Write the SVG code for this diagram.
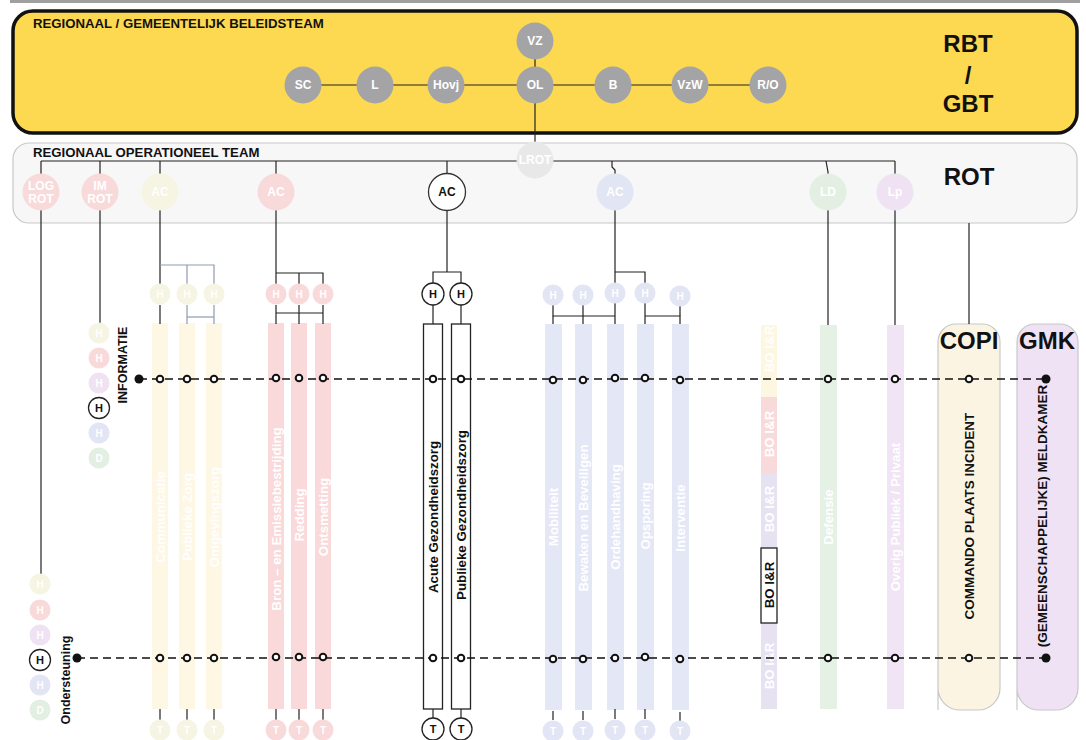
<svg xmlns="http://www.w3.org/2000/svg" width="1086" height="740" viewBox="0 0 1086 740">
<style>
text{font-family:"Liberation Sans",Arial,sans-serif;font-weight:bold}
.ln{stroke:#222;stroke-width:1.2;fill:none}
.lb{stroke:#8C9CB0;stroke-width:1.2;fill:none}
.dash{stroke:#111;stroke-width:1.4;stroke-dasharray:8 5;fill:none}
.gc{fill:#A4A4A6}
.gt{fill:#fff;font-size:12px;text-anchor:middle;dominant-baseline:central}
.ct{fill:#fff;font-size:13.3px;text-anchor:middle;dominant-baseline:central}
.bt{fill:#111;font-size:13.3px;text-anchor:middle;dominant-baseline:central}
.ft{fill:#fff;font-size:10px;text-anchor:middle;dominant-baseline:central}
.hk{fill:#fff;stroke:#222;stroke-width:1.3}
.hkt{fill:#111;font-size:11px;text-anchor:middle;dominant-baseline:central}
.od{fill:#fff;stroke:#111;stroke-width:2}
.fd{fill:#111}
.cy{fill:#FDF7E4}.cr{fill:#F9D9D9}.cb{fill:#E4E7F6}.cg{fill:#E4F1E4}.cp{fill:#F0E4F5}
.ky{fill:#F6F4E2}.kr{fill:#F9DADA}.kb{fill:#E2E5F4}.kg{fill:#E2EFE2}.kp{fill:#EFE2F3}
.big{fill:#111;font-size:24px;text-anchor:middle}
.ttl{fill:#111;font-size:13.2px}
</style>
<rect x="10" y="0" width="1070" height="3" fill="#A0A0A0"/>

<g id="rbt">
<rect x="13" y="11" width="1064" height="122" rx="20" fill="#FCD950" stroke="#111" stroke-width="3.5"/>
<text class="ttl" x="33" y="28">REGIONAAL / GEMEENTELIJK BELEIDSTEAM</text>
<text class="big" x="968" y="52">RBT</text>
<text class="big" x="968" y="84">/</text>
<text class="big" x="968" y="112">GBT</text>
</g>

<g id="rot">
<rect x="13" y="143" width="1064" height="80" rx="16" fill="#F7F7F7" stroke="#C8C8C8" stroke-width="1.2"/>
<text class="ttl" x="33" y="157">REGIONAAL OPERATIONEEL TEAM</text>
<text class="big" x="969" y="185">ROT</text>
</g>

<g id="columns">
<g id="col-communicatie"><rect class="cy" x="152" y="323" width="16" height="386"/><text class="ct" transform="translate(160,517) rotate(-90)">Communicatie</text></g>
<g id="col-publieke-zorg"><rect class="cy" x="179" y="323" width="16" height="386"/><text class="ct" transform="translate(187,517) rotate(-90)">Publieke Zorg</text></g>
<g id="col-omgevingszorg"><rect class="cy" x="206" y="323" width="16" height="386"/><text class="ct" transform="translate(214,517) rotate(-90)">Omgevingszorg</text></g>
<g id="col-bron"><rect class="cr" x="268" y="323" width="16" height="386"/><text class="ct" transform="translate(276,519) rotate(-90)">Bron – en Emissiebestrijding</text></g>
<g id="col-redding"><rect class="cr" x="291" y="323" width="16" height="386"/><text class="ct" transform="translate(299,515) rotate(-90)">Redding</text></g>
<g id="col-ontsmetting"><rect class="cr" x="315" y="323" width="16" height="386"/><text class="ct" transform="translate(323,517) rotate(-90)">Ontsmetting</text></g>
<g id="col-acute"><rect x="423.5" y="324" width="19" height="385" fill="#fff" stroke="#222" stroke-width="1.3"/><text class="bt" transform="translate(433,517) rotate(-90)">Acute Gezondheidszorg</text></g>
<g id="col-publieke-gz"><rect x="451.5" y="324" width="19" height="385" fill="#fff" stroke="#222" stroke-width="1.3"/><text class="bt" transform="translate(461,515) rotate(-90)">Publieke Gezondheidszorg</text></g>
<g id="col-mobiliteit"><rect class="cb" x="545" y="324" width="17" height="386"/><text class="ct" transform="translate(553,517) rotate(-90)">Mobiliteit</text></g>
<g id="col-bewaken"><rect class="cb" x="575" y="324" width="17" height="386"/><text class="ct" transform="translate(583,518) rotate(-90)">Bewaken en Beveiligen</text></g>
<g id="col-ordehandhaving"><rect class="cb" x="607" y="324" width="17" height="386"/><text class="ct" transform="translate(615,517) rotate(-90)">Ordehandhaving</text></g>
<g id="col-opsporing"><rect class="cb" x="637" y="324" width="17" height="386"/><text class="ct" transform="translate(645,516) rotate(-90)">Opsporing</text></g>
<g id="col-interventie"><rect class="cb" x="672" y="324" width="17" height="386"/><text class="ct" transform="translate(680,518) rotate(-90)">Interventie</text></g>
<g id="col-bo">
<rect x="761" y="325" width="16" height="72" fill="#FDF6E0"/>
<rect x="761" y="397" width="16" height="76" fill="#F9DADA"/>
<rect x="761" y="473" width="16" height="236" fill="#E6E2F2"/>
<text class="ct" transform="translate(769,349) rotate(-90)">BO I&amp;R</text>
<text class="ct" transform="translate(769,434) rotate(-90)">BO I&amp;R</text>
<text class="ct" transform="translate(769,509) rotate(-90)">BO I&amp;R</text>
<text class="ct" transform="translate(769,666) rotate(-90)">BO I&amp;R</text>
<rect x="761" y="548" width="16" height="75" fill="#fff" stroke="#222" stroke-width="1.3"/>
<text class="bt" transform="translate(769,585) rotate(-90)">BO I&amp;R</text>
</g>
<g id="col-defensie"><rect class="cg" x="820" y="325" width="17" height="384"/><text class="ct" transform="translate(828,517) rotate(-90)">Defensie</text></g>
<g id="col-overig"><rect class="cp" x="887" y="325" width="17" height="384"/><text class="ct" transform="translate(895,517) rotate(-90)">Overig Publiek / Privaat</text></g>
<g id="copi">
<path d="M938 710 V342 a18 18 0 0 1 18 -18 h26 a18 18 0 0 1 18 18 V688 a22 22 0 0 1 -22 22 h-18 a22 22 0 0 1 -22 -22 Z" fill="#FBF4E2" stroke="#C8C8C8" stroke-width="1.2"/>
<text class="big" x="969" y="349">COPI</text>
<text class="bt" style="font-size:13.5px" transform="translate(969,516) rotate(-90)">COMMANDO PLAATS INCIDENT</text>
</g>
<g id="gmk">
<path d="M1017 710 V342 a18 18 0 0 1 18 -18 h25 a18 18 0 0 1 18 18 V688 a22 22 0 0 1 -22 22 h-17 a22 22 0 0 1 -22 -22 Z" fill="#F0E2F5" stroke="#C8C8C8" stroke-width="1.2"/>
<text class="big" x="1047" y="349">GMK</text>
<text class="bt" style="font-size:13.5px" transform="translate(1042,516) rotate(-90)">(GEMEENSCHAPPELIJKE) MELDKAMER</text>
</g>
</g>

<g id="connectors">
<line class="ln" x1="303" y1="85" x2="768" y2="85"/>
<line class="ln" x1="535" y1="41" x2="535" y2="150"/>
<line class="ln" x1="41" y1="161" x2="895" y2="161"/>
<line class="ln" x1="41" y1="161" x2="41" y2="575"/>
<line class="ln" x1="100" y1="161" x2="100" y2="323"/>
<line class="ln" x1="160" y1="161" x2="160" y2="285"/>
<polyline class="lb" points="160,265 214,265 214,285"/>
<line class="lb" x1="187" y1="265" x2="187" y2="285"/>
<line class="ln" x1="160" y1="305" x2="160" y2="324"/>
<line class="lb" x1="187" y1="305" x2="187" y2="324"/>
<line class="lb" x1="214" y1="305" x2="214" y2="324"/>
<line class="lb" x1="187" y1="317" x2="214" y2="317"/>
<line class="ln" x1="276" y1="161" x2="276" y2="285"/>
<polyline class="ln" points="276,273 323,273 323,285"/>
<line class="ln" x1="299" y1="273" x2="299" y2="285"/>
<line class="ln" x1="276" y1="305" x2="276" y2="324"/>
<line class="ln" x1="299" y1="305" x2="299" y2="324"/>
<line class="ln" x1="323" y1="305" x2="323" y2="324"/>
<line class="ln" x1="276" y1="313" x2="323" y2="313"/>
<line class="ln" x1="447" y1="161" x2="447" y2="272"/>
<polyline class="ln" points="433,283 433,272 461,272 461,283"/>
<line class="ln" x1="433" y1="305" x2="433" y2="324"/>
<line class="ln" x1="461" y1="305" x2="461" y2="324"/>
<line class="ln" x1="433" y1="709" x2="433" y2="718"/>
<line class="ln" x1="461" y1="709" x2="461" y2="718"/>
<polyline class="ln" points="612,161 612,167 615,170 615,324"/>
<polyline class="ln" points="615,272 645,272 645,324"/>
<polyline class="ln" points="553,305 553,316 615,316"/>
<line class="ln" x1="553" y1="316" x2="553" y2="324"/>
<line class="ln" x1="583" y1="305" x2="583" y2="324"/>
<polyline class="ln" points="645,316 680,316 680,324"/>
<line class="ln" x1="680" y1="306" x2="680" y2="316"/>
<polyline class="ln" points="826,161 828,172 828,325"/>
<line class="ln" x1="895" y1="161" x2="895" y2="325"/>
<line class="ln" x1="969" y1="223" x2="969" y2="324"/>
<g stroke="#222" stroke-width="1.2">
<line x1="160" y1="709" x2="160" y2="720"/><line x1="187" y1="709" x2="187" y2="720"/><line x1="214" y1="709" x2="214" y2="720"/>
<line x1="276" y1="709" x2="276" y2="720"/><line x1="299" y1="709" x2="299" y2="720"/><line x1="323" y1="709" x2="323" y2="720"/>
<line x1="553" y1="711" x2="553" y2="720"/><line x1="583" y1="711" x2="583" y2="720"/><line x1="615" y1="709" x2="615" y2="719"/><line x1="645" y1="709" x2="645" y2="719"/><line x1="680" y1="712" x2="680" y2="721"/>
</g>
<line class="dash" x1="139" y1="379" x2="1046" y2="379"/>
<line class="dash" x1="77" y1="658" x2="1046" y2="658"/>
</g>

<g id="rbt-nodes">
<g id="n-vz"><circle class="gc" cx="535" cy="41" r="18.5"/><text class="gt" x="535" y="41">VZ</text></g>
<g id="n-sc"><circle class="gc" cx="303" cy="85" r="18.5"/><text class="gt" x="303" y="85">SC</text></g>
<g id="n-l"><circle class="gc" cx="375" cy="85" r="18.5"/><text class="gt" x="375" y="85">L</text></g>
<g id="n-hovj"><circle class="gc" cx="446" cy="85" r="18.5"/><text class="gt" x="446" y="85">Hovj</text></g>
<g id="n-ol"><circle class="gc" cx="535" cy="85" r="18.5"/><text class="gt" x="535" y="85">OL</text></g>
<g id="n-b"><circle class="gc" cx="613" cy="85" r="18.5"/><text class="gt" x="613" y="85">B</text></g>
<g id="n-vzw"><circle class="gc" cx="690" cy="85" r="18.5"/><text class="gt" x="690" y="85">VzW</text></g>
<g id="n-ro"><circle class="gc" cx="768" cy="85" r="18.5"/><text class="gt" x="768" y="85">R/O</text></g>
</g>

<g id="rot-nodes">
<g id="n-lrot"><circle cx="535" cy="160" r="18.5" fill="#E8E8E8"/><text class="gt" x="535" y="160">LROT</text></g>
<g id="n-logrot"><circle class="kr" cx="41" cy="192" r="18.5"/><text class="gt" x="41" y="186">LOG</text><text class="gt" x="41" y="199">ROT</text></g>
<g id="n-imrot"><circle class="kr" cx="100" cy="192" r="18.5"/><text class="gt" x="100" y="186">IM</text><text class="gt" x="100" y="199">ROT</text></g>
<g id="n-ac-y"><circle class="ky" cx="160" cy="192" r="18.5"/><text class="gt" x="160" y="192">AC</text></g>
<g id="n-ac-r"><circle class="kr" cx="276" cy="192" r="18.5"/><text class="gt" x="276" y="192">AC</text></g>
<g id="n-ac-w"><circle cx="447" cy="192" r="18.5" fill="#fff" stroke="#333" stroke-width="1.3"/><text class="hkt" style="font-size:12px" x="447" y="192">AC</text></g>
<g id="n-ac-b"><circle class="kb" cx="615" cy="192" r="18.5"/><text class="gt" x="615" y="192">AC</text></g>
<g id="n-ld"><circle class="kg" cx="828" cy="192" r="18.5"/><text class="gt" x="828" y="192">LD</text></g>
<g id="n-lp"><circle class="kp" cx="895" cy="192" r="18.5"/><text class="gt" x="895" y="192">Lp</text></g>
</g>

<g id="h-nodes">
<g id="h-y1"><circle class="ky" cx="160" cy="294" r="10.5"/><text class="ft" x="160" y="294">H</text></g>
<g id="h-y2"><circle class="ky" cx="187" cy="294" r="10.5"/><text class="ft" x="187" y="294">H</text></g>
<g id="h-y3"><circle class="ky" cx="214" cy="294" r="10.5"/><text class="ft" x="214" y="294">H</text></g>
<g id="h-r1"><circle class="kr" cx="276" cy="294" r="10.5"/><text class="ft" x="276" y="294">H</text></g>
<g id="h-r2"><circle class="kr" cx="299" cy="294" r="10.5"/><text class="ft" x="299" y="294">H</text></g>
<g id="h-r3"><circle class="kr" cx="323" cy="294" r="10.5"/><text class="ft" x="323" y="294">H</text></g>
<g id="h-w1"><circle class="hk" cx="433" cy="294" r="11"/><text class="hkt" x="433" y="294">H</text></g>
<g id="h-w2"><circle class="hk" cx="461" cy="294" r="11"/><text class="hkt" x="461" y="294">H</text></g>
<g id="h-b1"><circle class="kb" cx="553" cy="295" r="10.5"/><text class="ft" x="553" y="295">H</text></g>
<g id="h-b2"><circle class="kb" cx="583" cy="295" r="10.5"/><text class="ft" x="583" y="295">H</text></g>
<g id="h-b3"><circle class="kb" cx="615" cy="293" r="10.5"/><text class="ft" x="615" y="293">H</text></g>
<g id="h-b4"><circle class="kb" cx="645" cy="293" r="10.5"/><text class="ft" x="645" y="293">H</text></g>
<g id="h-b5"><circle class="kb" cx="680" cy="296" r="10.5"/><text class="ft" x="680" y="296">H</text></g>
</g>

<g id="t-nodes">
<g id="t-y1"><circle class="ky" cx="160" cy="730" r="10.5"/><text class="ft" x="160" y="730">T</text></g>
<g id="t-y2"><circle class="ky" cx="187" cy="730" r="10.5"/><text class="ft" x="187" y="730">T</text></g>
<g id="t-y3"><circle class="ky" cx="214" cy="730" r="10.5"/><text class="ft" x="214" y="730">T</text></g>
<g id="t-r1"><circle class="kr" cx="276" cy="730" r="10.5"/><text class="ft" x="276" y="730">T</text></g>
<g id="t-r2"><circle class="kr" cx="299" cy="730" r="10.5"/><text class="ft" x="299" y="730">T</text></g>
<g id="t-r3"><circle class="kr" cx="323" cy="730" r="10.5"/><text class="ft" x="323" y="730">T</text></g>
<g id="t-w1"><circle class="hk" cx="433" cy="729" r="11"/><text class="hkt" x="433" y="729">T</text></g>
<g id="t-w2"><circle class="hk" cx="461" cy="729" r="11"/><text class="hkt" x="461" y="729">T</text></g>
<g id="t-b1"><circle class="kb" cx="553" cy="731" r="10.5"/><text class="ft" x="553" y="731">T</text></g>
<g id="t-b2"><circle class="kb" cx="583" cy="731" r="10.5"/><text class="ft" x="583" y="731">T</text></g>
<g id="t-b3"><circle class="kb" cx="615" cy="730" r="10.5"/><text class="ft" x="615" y="730">T</text></g>
<g id="t-b4"><circle class="kb" cx="645" cy="730" r="10.5"/><text class="ft" x="645" y="730">T</text></g>
<g id="t-b5"><circle class="kb" cx="680" cy="731" r="10.5"/><text class="ft" x="680" y="731">T</text></g>
</g>

<g id="informatie">
<circle class="ky" cx="99" cy="333" r="10.5"/><text class="ft" x="99" y="333">H</text>
<circle class="kr" cx="99" cy="358" r="10.5"/><text class="ft" x="99" y="358">H</text>
<circle class="kp" cx="99" cy="383" r="10.5"/><text class="ft" x="99" y="383">H</text>
<circle class="hk" cx="99" cy="408" r="10.5"/><text class="hkt" x="99" y="408">H</text>
<circle class="kb" cx="99" cy="433" r="10.5"/><text class="ft" x="99" y="433">H</text>
<circle class="kg" cx="99" cy="458" r="10.5"/><text class="ft" x="99" y="458">D</text>
<text class="hkt" style="font-size:12.5px" transform="translate(123,365) rotate(-90)">INFORMATIE</text>
</g>

<g id="ondersteuning">
<circle class="ky" cx="40" cy="584" r="10.5"/><text class="ft" x="40" y="584">H</text>
<circle class="kr" cx="40" cy="610" r="10.5"/><text class="ft" x="40" y="610">H</text>
<circle class="kp" cx="40" cy="635" r="10.5"/><text class="ft" x="40" y="635">H</text>
<circle class="hk" cx="40" cy="660" r="10.5"/><text class="hkt" x="40" y="660">H</text>
<circle class="kb" cx="40" cy="685" r="10.5"/><text class="ft" x="40" y="685">H</text>
<circle class="kg" cx="40" cy="710" r="10.5"/><text class="ft" x="40" y="710">D</text>
<text class="hkt" style="font-size:12.5px" transform="translate(66,680) rotate(-90)">Ondersteuning</text>
</g>

<g id="dots">
<circle class="fd" cx="139" cy="379" r="4.5"/>
<circle class="fd" cx="1046" cy="379" r="4.5"/>
<circle class="fd" cx="77" cy="658" r="4.5"/>
<circle class="fd" cx="1046" cy="658" r="4.5"/>
<g class="od">
<circle cx="160" cy="379" r="3.3"/><circle cx="187" cy="379" r="3.3"/><circle cx="214" cy="379" r="3.3"/>
<circle cx="276" cy="378" r="3.3"/><circle cx="299" cy="378" r="3.3"/><circle cx="323" cy="378" r="3.3"/>
<circle cx="433" cy="379" r="3.3"/><circle cx="461" cy="379" r="3.3"/>
<circle cx="553" cy="380" r="3.3"/><circle cx="583" cy="380" r="3.3"/><circle cx="615" cy="378" r="3.3"/><circle cx="645" cy="378" r="3.3"/><circle cx="680" cy="380" r="3.3"/>
<circle cx="828" cy="379" r="3.3"/><circle cx="895" cy="379" r="3.3"/><circle cx="969" cy="379" r="3.3"/>
<circle cx="160" cy="658" r="3.3"/><circle cx="187" cy="658" r="3.3"/><circle cx="214" cy="658" r="3.3"/>
<circle cx="276" cy="657" r="3.3"/><circle cx="299" cy="657" r="3.3"/><circle cx="323" cy="657" r="3.3"/>
<circle cx="433" cy="658" r="3.3"/><circle cx="461" cy="658" r="3.3"/>
<circle cx="553" cy="659" r="3.3"/><circle cx="583" cy="659" r="3.3"/><circle cx="615" cy="658" r="3.3"/><circle cx="645" cy="657" r="3.3"/><circle cx="680" cy="659" r="3.3"/>
<circle cx="828" cy="658" r="3.3"/><circle cx="895" cy="658" r="3.3"/><circle cx="969" cy="658" r="3.3"/>
</g>
</g>
</svg>
